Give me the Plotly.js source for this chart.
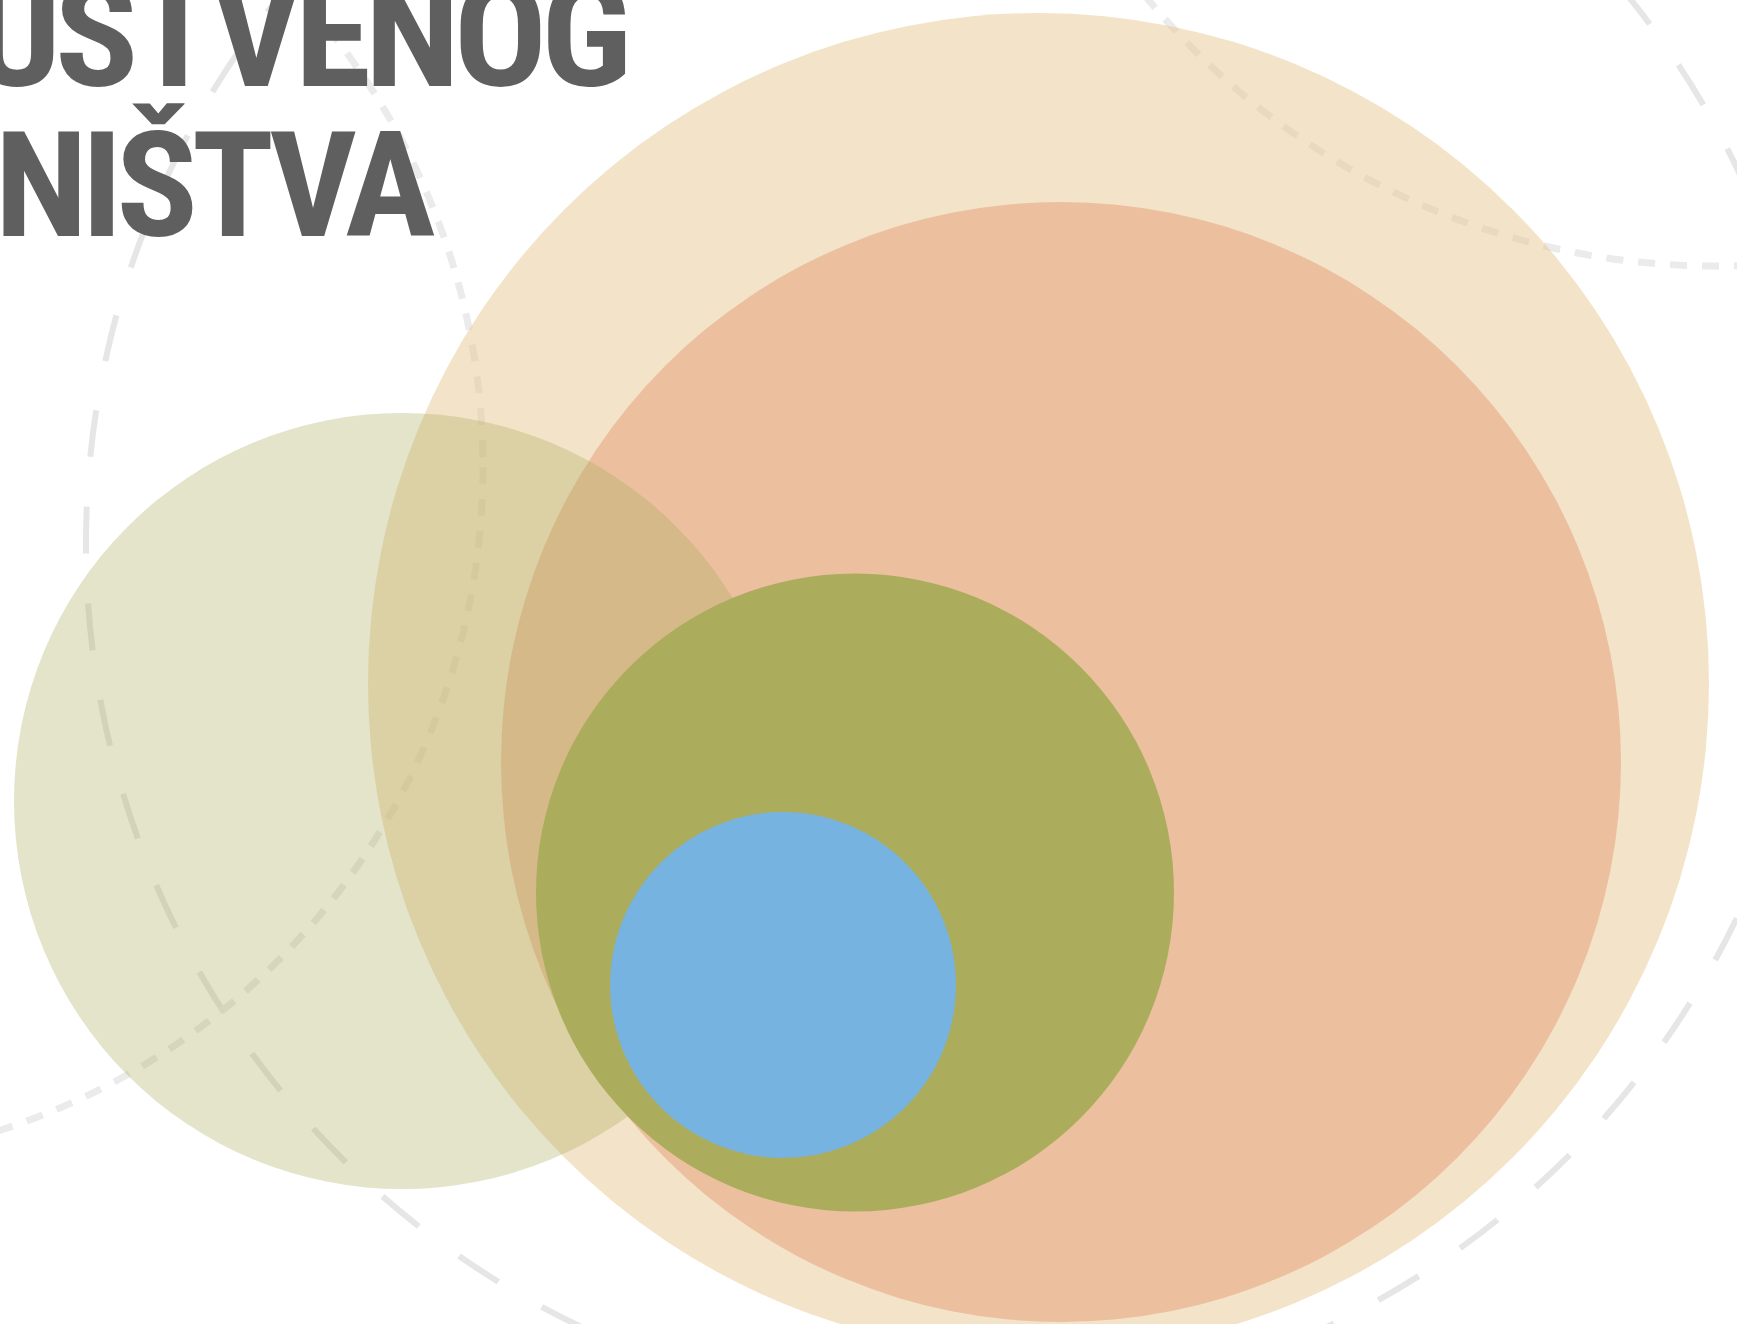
<!DOCTYPE html>
<html>
<head>
<meta charset="utf-8">
<script src="https://cdn.plot.ly/plotly-3.0.1.min.js"></script>
<style>
html,body{margin:0;padding:0;background:#ffffff;}
#chart{width:1737px;height:1324px;}
text.annotation-text{letter-spacing:-6px;}
</style>
</head>
<body>
<div id="chart"></div>
<script>
// ---- data ----
// filled circles (centre x, centre y, radius in pixel units of the canvas)
const circleNames = ['beige', 'salmon', 'lightOlive', 'olive', 'blue'];
const circleCx = [1038.5, 1061, 402, 855, 783];
const circleCy = [683.5, 762, 801, 892.5, 985];
const circleR  = [670.5, 560, 388, 319, 173];

// dashed rings
const ringNames = ['longDash', 'leftShortDash', 'topRightShortDash'];
const ringCx = [954, -214, 1715];
const ringCy = [543, 467, -470];
const ringR  = [868, 697, 736];

// title text lines
const titleLines = ['DRUŠTVENOG', 'PODUZETNIŠTVA'];

// ---- styles ----
const circleColors  = ['#e7c791', '#ecbf9f', '#aaad5e', '#abad5d', '#76b3e1'];
const circleOpacity = [0.5, 1, 0.33, 1, 1];
const ringColors = ['#e6e6e6', '#ebebeb', '#ebebeb'];
const ringDash   = ['47px,50px', '17px,15px', '17px,15px'];
const ringWidth  = [6, 7, 7];
const titleStretch = [1.065, 1.04];

const shapes = [];
ringNames.forEach((n, i) => {
  shapes.push({
    type: 'circle', xref: 'x', yref: 'y', layer: 'above',
    x0: ringCx[i] - ringR[i], x1: ringCx[i] + ringR[i],
    y0: ringCy[i] - ringR[i], y1: ringCy[i] + ringR[i],
    line: {color: ringColors[i], width: ringWidth[i], dash: ringDash[i]},
    fillcolor: 'rgba(0,0,0,0)'
  });
});
circleNames.forEach((n, i) => {
  shapes.push({
    type: 'circle', xref: 'x', yref: 'y', layer: 'above',
    x0: circleCx[i] - circleR[i], x1: circleCx[i] + circleR[i],
    y0: circleCy[i] - circleR[i], y1: circleCy[i] + circleR[i],
    line: {width: 0},
    fillcolor: circleColors[i],
    opacity: circleOpacity[i]
  });
});

const titleFont = {family: '"Roboto Condensed", Roboto, "Liberation Sans", sans-serif', size: 146, color: '#5f5f5f', weight: 700};
const annotations = [
  {text: titleLines[0], x: 628, y: 36, xref: 'x', yref: 'y',
   xanchor: 'right', yanchor: 'middle', showarrow: false, font: titleFont},
  {text: titleLines[1], x: 437, y: 186, xref: 'x', yref: 'y',
   xanchor: 'right', yanchor: 'middle', showarrow: false, font: titleFont}
];

const layout = {
  width: 1737, height: 1324,
  margin: {l: 0, r: 0, t: 0, b: 0, pad: 0},
  paper_bgcolor: '#ffffff', plot_bgcolor: '#ffffff',
  xaxis: {range: [0, 1737], visible: false, fixedrange: true},
  yaxis: {range: [1324, 0], visible: false, fixedrange: true},
  showlegend: false,
  shapes: shapes,
  annotations: annotations
};

Plotly.newPlot('chart', [{x: [], y: [], type: 'scatter', mode: 'markers', hoverinfo: 'skip'}], layout, {displayModeBar: false, staticPlot: true})
  .then(() => {
    // slightly widen the lettering (DIN-like proportions), anchored at the right edge
    document.querySelectorAll('#chart .annotation-text').forEach((t, i) => {
      t.style.transformBox = 'fill-box';
      t.style.transformOrigin = 'right center';
      t.style.transform = 'scaleX(' + (titleStretch[i] || 1.04) + ')';
    });
  });
</script>
</body>
</html>
